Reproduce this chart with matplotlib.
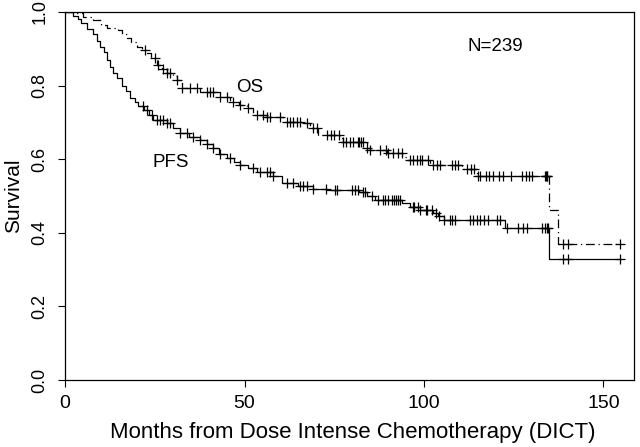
import numpy as np
import matplotlib
matplotlib.use("Agg")
import matplotlib.pyplot as plt

plt.rcParams['font.family'] = ['Liberation Sans', 'DejaVu Sans']

# Kaplan-Meier steps: (month, survival after step)
pfs_t = [0, 2.2, 3.5, 4.5, 6, 7.8, 8.8, 9.8, 10.8, 11.7, 12.6, 13.4, 14.5, 15.9,
         17, 18.1, 19.5, 20.4, 22.0, 23.5, 24.6, 28.4, 30, 32, 34.5, 37.6, 39.5,
         41.3, 43, 45, 47, 48.8, 51, 53.5, 58, 60.5, 65, 69, 73, 82, 84, 86.4,
         94, 96, 99, 102.6, 104, 105.5, 122.7, 134.7, 155]
pfs_s = [1.0, 0.99, 0.98, 0.97, 0.955, 0.94, 0.92, 0.905, 0.89, 0.87, 0.85, 0.834,
         0.82, 0.80, 0.785, 0.766, 0.755, 0.745, 0.735, 0.72, 0.707, 0.698, 0.685,
         0.67, 0.66, 0.652, 0.64, 0.63, 0.615, 0.603, 0.592, 0.584, 0.575, 0.566,
         0.555, 0.535, 0.527, 0.52, 0.515, 0.51, 0.50, 0.489, 0.48, 0.47, 0.462,
         0.455, 0.446, 0.435, 0.413, 0.329, 0.329]

os_t = [0, 2.5, 5, 7.8, 10, 11.7, 14.8, 16, 17.2, 18.5, 20, 21.5, 22.8, 24, 25.6,
        27, 28.4, 30, 31.2, 32.6, 37.6, 43.2, 46, 48.5, 50.7, 52.4, 56.3, 60.8,
        66.4, 68.3, 70.5, 76.7, 77.5, 84.2, 85, 89.7, 94, 95.3, 101.8, 110.5,
        114.8, 134.7, 137.2, 155]
os_s = [1.0, 0.996, 0.987, 0.978, 0.965, 0.956, 0.951, 0.94, 0.93, 0.918, 0.906,
        0.897, 0.888, 0.874, 0.856, 0.845, 0.834, 0.825, 0.815, 0.793, 0.783,
        0.77, 0.756, 0.748, 0.739, 0.72, 0.714, 0.701, 0.697, 0.685, 0.666,
        0.657, 0.647, 0.63, 0.625, 0.617, 0.606, 0.598, 0.584, 0.572, 0.554,
        0.462, 0.37, 0.37]

# censored observations (months)
pfs_cens = [21.8, 22.8, 24.2, 25.6, 26.5, 27.3, 28.4, 29.3, 32.1, 34.0, 35.7,
            37.6, 39.6, 41.3, 43.2, 45.9, 48.8, 52.4, 54.4, 56.3, 57.2, 58.0,
            61.9, 63.6, 65.5, 66.4, 67.5, 69.1, 72.8, 75.3, 75.8, 79.9, 80.7,
            81.6, 83.0, 83.5, 85.4, 87.2, 88.6, 89.2, 90.0, 91.1, 91.6, 92.1,
            92.7, 93.2, 96.8, 97.3, 98.4, 99.0, 100.5, 100.9, 102.1, 103.3,
            104.2, 105.6, 107.3, 107.8, 108.6, 112.9, 113.7, 114.9, 115.7,
            116.6, 117.9, 120.4, 121.3, 123.2, 126.3, 127.7, 128.8, 132.9,
            133.7, 134.2, 134.5, 138.8, 140.0, 154.5]
os_cens = [22.3, 25.1, 25.9, 27.3, 28.4, 29.3, 31.2, 32.6, 34.8, 36.8, 39.6,
           40.4, 41.3, 43.2, 45.2, 46.8, 48.8, 51.0, 53.5, 55.2, 56.3, 57.2,
           60.0, 61.9, 62.7, 63.6, 64.7, 65.5, 67.5, 69.1, 70.2, 73.1, 74.0,
           75.0, 76.4, 77.5, 78.4, 79.3, 80.2, 81.5, 82.0, 82.4, 83.0, 84.2,
           85.0, 87.7, 89.5, 90.0, 91.4, 92.7, 93.9, 96.2, 97.0, 98.1, 98.9,
           99.5, 101.0, 102.6, 103.7, 104.5, 107.9, 108.7, 109.6, 112.1, 113.0,
           113.9, 115.0, 115.7, 117.3, 118.1, 119.2, 121.0, 121.9, 124.3, 127.4,
           128.5, 129.3, 130.2, 133.8, 134.0, 134.2, 134.4, 138.8, 140.0, 154.5]


def surv_at(t, times, surv):
    idx = np.searchsorted(times, t, side='right') - 1
    return np.asarray(surv)[idx]


fig = plt.figure(figsize=(6.4, 4.47), dpi=100)
ax = fig.add_axes([0.1016, 0.1499, 0.889, 0.8233])

ax.step(pfs_t, pfs_s, where='post', color='black', lw=0.9)
ax.step(os_t, os_s, where='post', color='black', lw=0.9,
        linestyle=(0, (7, 3, 1, 3)))
ax.plot(pfs_cens, surv_at(pfs_cens, pfs_t, pfs_s), '+', color='black',
        ms=6.5, mew=0.9)
ax.plot(os_cens, surv_at(os_cens, os_t, os_s), '+', color='black',
        ms=6.5, mew=0.9)

ax.text(51.5, 0.795, 'OS', fontsize=13.5, ha='center', va='center')
ax.text(29.5, 0.592, 'PFS', fontsize=13.5, ha='center', va='center')
ax.text(120, 0.905, 'N=239', fontsize=13.5, ha='center', va='center')

ax.set_xlim(0, 158.5)
ax.set_ylim(0, 1)
ax.set_xticks([0, 50, 100, 150])
ax.set_yticks([0.0, 0.2, 0.4, 0.6, 0.8, 1.0])
ax.set_yticklabels(['0.0', '0.2', '0.4', '0.6', '0.8', '1.0'],
                   rotation=90, va='center')
ax.tick_params(length=5, width=0.8, labelsize=13, pad=6)
ax.tick_params(axis='x', labelsize=14)
ax.tick_params(axis='y', pad=7)
for sp in ax.spines.values():
    sp.set_linewidth(0.9)

ax.set_xlabel('Months from Dose Intense Chemotherapy (DICT)', fontsize=16,
              labelpad=7)
ax.xaxis.set_label_coords(0.506, -0.115)
ax.set_ylabel('Survival', fontsize=15, labelpad=6)

fig.savefig('out.png', dpi=100)
